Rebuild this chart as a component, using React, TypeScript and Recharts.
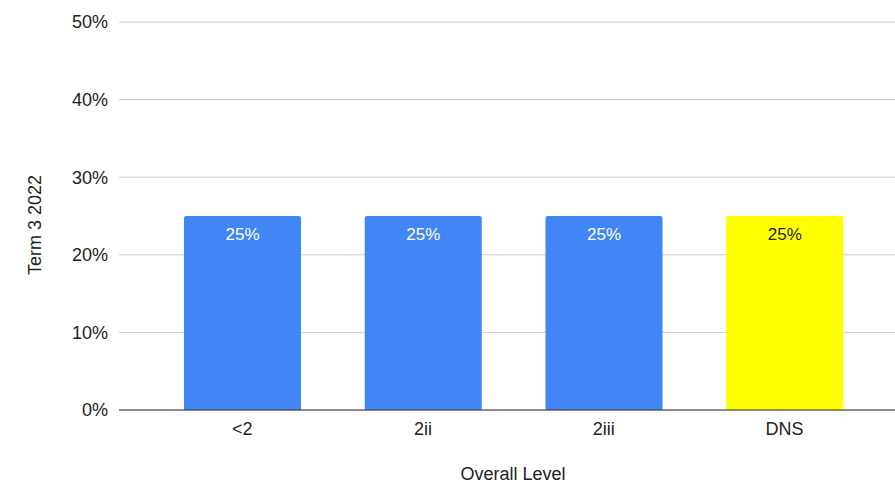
import { Bar, BarChart, CartesianGrid, Cell, LabelList, XAxis, YAxis } from "recharts"

const levels = ["<2", "2ii", "2iii", "DNS"]
const shares = [0.25, 0.25, 0.25, 0.25]
const barColors = ["#4285f4", "#4285f4", "#4285f4", "#ffff00"]
const labelColors = ["#ffffff", "#ffffff", "#ffffff", "#222222"]
const yTicks = [0, 0.1, 0.2, 0.3, 0.4, 0.5]

const data = levels.map((level, i) => ({ level, share: shares[i] }))

const font = "'Liberation Sans', Arial, sans-serif"
const pct = (v: number) => `${Math.round(v * 100)}%`

function BarValue(props: any) {
  const { x, y, width, value, index } = props
  return (
    <text
      x={x + width / 2}
      y={y + 24}
      textAnchor="middle"
      fontSize={17}
      fontFamily={font}
      fill={labelColors[index]}
    >
      {pct(value)}
    </text>
  )
}

export default function App() {
  return (
    <div
      style={{
        position: "absolute",
        left: 0,
        top: 0,
        width: 895,
        height: 484,
        overflow: "hidden",
        background: "#fff",
      }}
    >
      <BarChart width={909} height={484} data={data} margin={{ top: 22, right: 0, bottom: 0, left: 0 }}>
        <CartesianGrid vertical={false} stroke="#cccccc" />
        <XAxis
          dataKey="level"
          height={74}
          padding={{ left: 33, right: 34 }}
          axisLine={{ stroke: "#333333" }}
          tickLine={false}
          tickSize={0}
          tickMargin={12}
          tick={{ fontSize: 18, fontFamily: font, fill: "#222222" }}
          label={{
            content: () => (
              <text x={513} y={480} textAnchor="middle" fontSize={18} fontFamily={font} fill="#222222">
                Overall Level
              </text>
            ),
          }}
        />
        <YAxis
          width={119}
          domain={[0, 0.5]}
          ticks={yTicks}
          tickFormatter={pct}
          axisLine={false}
          tickLine={false}
          tickSize={0}
          tickMargin={11}
          tick={{ fontSize: 18, fontFamily: font, fill: "#222222" }}
          label={{
            content: ({ viewBox }: any) => (
              <text
                transform={`translate(${viewBox.x + 41}, ${viewBox.y + viewBox.height / 2 + 9}) rotate(-90)`}
                textAnchor="middle"
                fontSize={18}
                fontFamily={font}
                fill="#222222"
              >
                Term 3 2022
              </text>
            ),
          }}
        />
        <Bar dataKey="share" barSize={117} radius={[2, 2, 0, 0]} isAnimationActive={false}>
          {data.map((d, i) => (
            <Cell key={d.level} fill={barColors[i]} />
          ))}
          <LabelList dataKey="share" content={BarValue} />
        </Bar>
      </BarChart>
    </div>
  )
}
